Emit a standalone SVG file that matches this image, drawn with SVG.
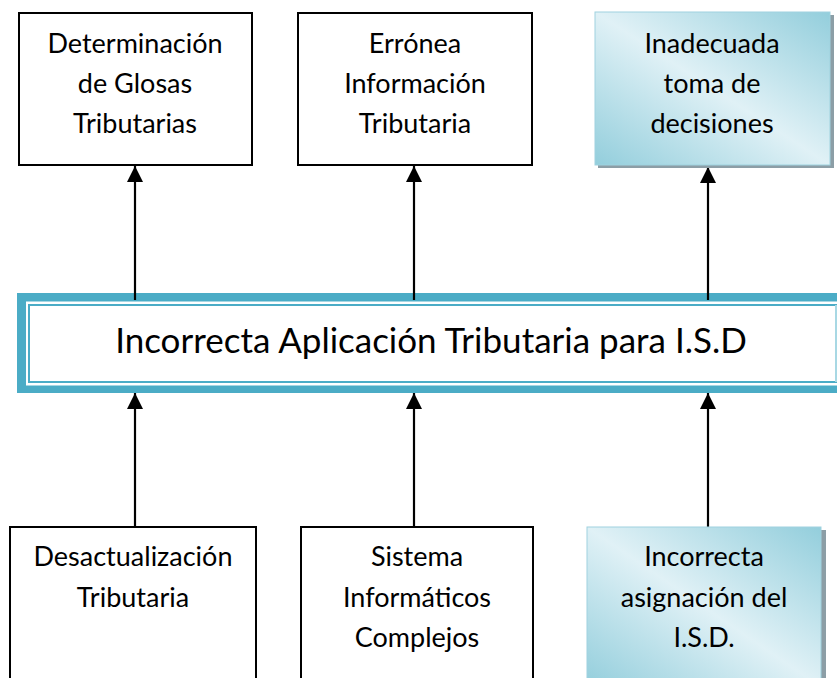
<svg xmlns="http://www.w3.org/2000/svg" width="837" height="678" viewBox="0 0 837 678">
<style>
.box{fill:#ffffff;stroke:#000000;stroke-width:2}
.bluebox{fill:url(#blueGrad);stroke:#9fd2df;stroke-width:1}
.shadow{fill:#8c9ea6}
.t{font-family:Lato,"Open Sans","Liberation Sans",sans-serif;font-size:27px;fill:#000000;text-anchor:middle}
.big{font-family:Lato,"Open Sans","Liberation Sans",sans-serif;font-size:35px;fill:#000000;text-anchor:middle}
.conn{stroke:#000000;stroke-width:2.2;fill:none}
</style>
<defs>
<linearGradient id="blueGrad" x1="0" y1="1" x2="1" y2="0">
<stop offset="0" stop-color="#93cedc"/>
<stop offset="0.5" stop-color="#e0f1f6"/>
<stop offset="1" stop-color="#93cedc"/>
</linearGradient>
<marker id="arr" viewBox="0 0 16 17" refX="16" refY="8" markerWidth="16" markerHeight="17" markerUnits="userSpaceOnUse" orient="auto">
<path d="M0,0 L16,8 L0,16 z" fill="#000000"/>
</marker>
</defs>

<g id="banner">
<rect x="17" y="293" width="830" height="100" fill="#4bacc6"/>
<rect x="26" y="301.5" width="820" height="84" fill="#ffffff"/>
<rect x="29" y="305" width="807" height="77" fill="#ffffff" stroke="#4bacc6" stroke-width="2"/>
<line x1="836" y1="305" x2="836" y2="382" stroke="#a8d8e4" stroke-width="2"/>
<text class="big" x="431" y="353">Incorrecta Aplicación Tributaria para I.S.D</text>
</g>

<g id="connectors">
<line class="conn" x1="135" y1="300" x2="135" y2="166" marker-end="url(#arr)"/>
<line class="conn" x1="414" y1="300" x2="414" y2="166" marker-end="url(#arr)"/>
<line class="conn" x1="708" y1="300" x2="708" y2="167" marker-end="url(#arr)"/>
<line class="conn" x1="135" y1="527" x2="135" y2="393" marker-end="url(#arr)"/>
<line class="conn" x1="414" y1="527" x2="414" y2="393" marker-end="url(#arr)"/>
<line class="conn" x1="708" y1="527" x2="708" y2="393" marker-end="url(#arr)"/>
</g>

<g id="top1">
<rect class="box" x="19" y="13" width="233" height="152"/>
<text class="t" x="135" y="53">Determinación</text>
<text class="t" x="135" y="93">de Glosas</text>
<text class="t" x="135" y="133">Tributarias</text>
</g>

<g id="top2">
<rect class="box" x="298" y="13" width="234" height="152"/>
<text class="t" x="415" y="53">Errónea</text>
<text class="t" x="415" y="93">Información</text>
<text class="t" x="415" y="133">Tributaria</text>
</g>

<g id="top3">
<rect class="shadow" x="598" y="15" width="236" height="153"/>
<rect class="bluebox" x="595" y="12" width="235" height="153"/>
<text class="t" x="712" y="53">Inadecuada</text>
<text class="t" x="712" y="93">toma de</text>
<text class="t" x="712" y="133">decisiones</text>
</g>

<g id="bot1">
<rect class="box" x="10" y="527" width="246" height="160"/>
<text class="t" x="133" y="566">Desactualización</text>
<text class="t" x="133" y="607">Tributaria</text>
</g>

<g id="bot2">
<rect class="box" x="301" y="527" width="232" height="160"/>
<text class="t" x="417" y="566">Sistema</text>
<text class="t" x="417" y="607">Informáticos</text>
<text class="t" x="417" y="647">Complejos</text>
</g>

<g id="bot3">
<rect class="shadow" x="590" y="530" width="236" height="160"/>
<rect class="bluebox" x="587" y="527" width="234" height="160"/>
<text class="t" x="704" y="566">Incorrecta</text>
<text class="t" x="704" y="607">asignación del</text>
<text class="t" x="704" y="647">I.S.D.</text>
</g>
</svg>
